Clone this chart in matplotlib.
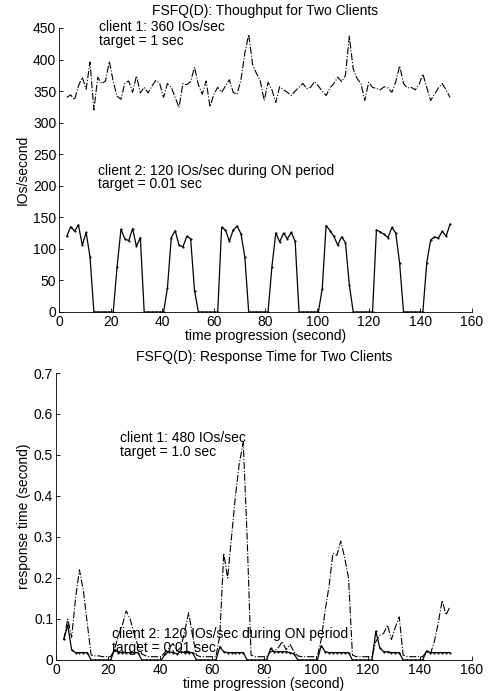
import numpy as np
import matplotlib
matplotlib.use('Agg')
import matplotlib.pyplot as plt

plt.rcParams['font.family'] = ['Liberation Sans', 'DejaVu Sans']
plt.rcParams['font.size'] = 10

# sample times (one sample every 1.5 s)
t = np.arange(3, 152, 1.5)

# throughput (IOs/second)
client1_tput = [340, 344, 336, 358, 372, 353, 396, 320, 372, 362,
                366, 397, 365, 342, 337, 363, 366, 348, 374, 347,
                356, 347, 358, 367, 362, 340, 362, 356, 340, 324,
                362, 360, 365, 388, 360, 345, 366, 325, 345, 356,
                348, 358, 368, 348, 345, 368, 410, 440, 392, 378,
                366, 335, 364, 352, 332, 357, 352, 348, 343, 350,
                356, 362, 354, 356, 365, 358, 350, 343, 355, 362,
                372, 365, 375, 437, 385, 370, 362, 335, 364, 356,
                354, 352, 357, 355, 348, 365, 390, 362, 355, 356,
                352, 360, 377, 356, 335, 345, 355, 362, 352, 340]
client2_tput = [120, 135, 128, 138, 106, 126, 87, 0, 0, 0,
                0, 0, 0, 72, 131, 116, 113, 132, 104, 118,
                0, 0, 0, 0, 0, 0, 38, 118, 129, 106,
                103, 120, 116, 34, 0, 0, 0, 0, 0, 0,
                134, 130, 112, 130, 136, 124, 87, 0, 0, 0,
                0, 0, 0, 72, 125, 111, 125, 116, 126, 112,
                0, 0, 0, 0, 0, 0, 37, 137, 129, 120,
                106, 119, 110, 43, 0, 0, 0, 0, 0, 0,
                130, 127, 123, 118, 134, 125, 77, 0, 0, 0,
                0, 0, 0, 78, 114, 119, 117, 128, 120, 139]

# response time (second)
client1_resp = [0.05, 0.1, 0.055, 0.15, 0.22, 0.17, 0.09, 0.012, 0.01, 0.01,
                0.008, 0.008, 0.008, 0.025, 0.06, 0.085, 0.12, 0.1, 0.065, 0.035,
                0.015, 0.01, 0.008, 0.008, 0.008, 0.008, 0.02, 0.03, 0.04, 0.022,
                0.03, 0.07, 0.115, 0.06, 0.012, 0.008, 0.008, 0.008, 0.008, 0.008,
                0.06, 0.26, 0.2, 0.3, 0.4, 0.48, 0.53, 0.3, 0.012, 0.008,
                0.008, 0.008, 0.008, 0.02, 0.022, 0.03, 0.045, 0.025, 0.038, 0.02,
                0.01, 0.008, 0.008, 0.008, 0.008, 0.008, 0.05, 0.12, 0.18, 0.26,
                0.255, 0.29, 0.25, 0.2, 0.012, 0.008, 0.008, 0.008, 0.008, 0.008,
                0.045, 0.06, 0.065, 0.085, 0.05, 0.08, 0.105, 0.012, 0.008, 0.008,
                0.008, 0.008, 0.008, 0.02, 0.015, 0.045, 0.09, 0.145, 0.11, 0.13]
client2_resp = [0.05, 0.085, 0.025, 0.018, 0.018, 0.018, 0.018, 0, 0, 0,
                0, 0, 0, 0.025, 0.018, 0.018, 0.018, 0.018, 0.018, 0.018,
                0, 0, 0, 0, 0, 0, 0.015, 0.02, 0.018, 0.015,
                0.02, 0.018, 0.018, 0.018, 0, 0, 0, 0, 0, 0,
                0.032, 0.02, 0.018, 0.018, 0.018, 0.018, 0.018, 0, 0, 0,
                0, 0, 0, 0.028, 0.02, 0.02, 0.02, 0.02, 0.018, 0.015,
                0, 0, 0, 0, 0, 0, 0.035, 0.02, 0.018, 0.018,
                0.018, 0.018, 0.018, 0.018, 0, 0, 0, 0, 0, 0,
                0.07, 0.03, 0.02, 0.02, 0.018, 0.018, 0.018, 0, 0, 0,
                0, 0, 0, 0.022, 0.018, 0.018, 0.018, 0.018, 0.018, 0.018]


def matlab_axes(ax):
    ax.spines['top'].set_visible(False)
    ax.spines['right'].set_visible(False)
    ax.tick_params(direction='in', length=3, width=0.6, labelsize=10, pad=2)
    for s in ('left', 'bottom'):
        ax.spines[s].set_linewidth(0.6)


fig = plt.figure(figsize=(4.88, 6.91), dpi=100)

# throughput
ax1 = fig.add_axes([0.121, 0.5485, 0.846, 0.411])
ax1.plot(t, client1_tput, 'k-.', lw=0.8)
ax1.plot(t, client2_tput, 'k-', lw=0.9, marker='.', ms=1.1)
ax1.set_xlim(0, 160)
ax1.set_ylim(0, 450)
ax1.set_xticks(range(0, 161, 20))
ax1.set_yticks(range(0, 451, 50))
matlab_axes(ax1)
ax1.set_title('FSFQ(D): Thoughput for Two Clients', fontsize=10, pad=9)
ax1.set_xlabel('time progression (second)', labelpad=0)
ax1.set_ylabel('IOs/second', labelpad=2)
ax1.text(15.5, 452, 'client 1: 360 IOs/sec', va='center', clip_on=False)
ax1.text(15.5, 430, 'target = 1 sec', va='center')
ax1.text(15, 223, 'client 2: 120 IOs/sec during ON period', va='center')
ax1.text(15, 203, 'target = 0.01 sec', va='center')

# response time
ax2 = fig.add_axes([0.1148, 0.0449, 0.8525, 0.4153])
ax2.plot(t, client1_resp, 'k-.', lw=0.8)
ax2.plot(t, client2_resp, 'k-', lw=0.9, marker='.', ms=1.1)
ax2.set_xlim(0, 160)
ax2.set_ylim(0, 0.7)
ax2.set_xticks(range(0, 161, 20))
ax2.set_yticks(np.arange(0, 0.71, 0.1))
ax2.set_yticklabels(['0', '0.1', '0.2', '0.3', '0.4', '0.5', '0.6', '0.7'])
matlab_axes(ax2)
ax2.set_title('FSFQ(D): Response Time for Two Clients', fontsize=10, pad=9)
ax2.set_xlabel('time progression (second)', labelpad=0)
ax2.set_ylabel('response time (second)', labelpad=2)
ax2.text(24.6, 0.541, 'client 1: 480 IOs/sec', va='center')
ax2.text(24.6, 0.508, 'target = 1.0 sec', va='center')
ax2.text(21.4, 0.064, 'client 2: 120 IOs/sec during ON period', va='center')
ax2.text(21.4, 0.030, 'target = 0.01 sec', va='center')

fig.savefig('out.png', dpi=100)
